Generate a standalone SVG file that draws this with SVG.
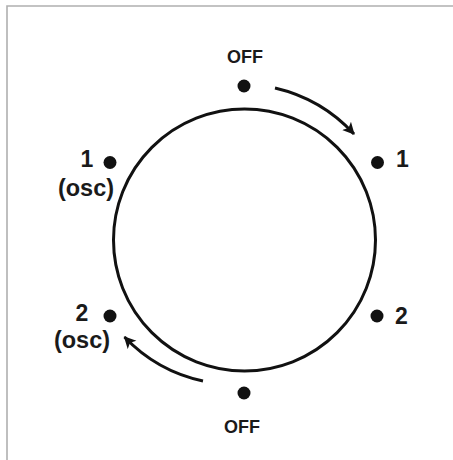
<svg xmlns="http://www.w3.org/2000/svg" width="453" height="460" viewBox="0 0 453 460">
<style>
.lbl{font-family:"Liberation Sans",Arial,sans-serif;font-weight:bold;fill:#1a1a1a}
.big{font-size:23px}
.osc{font-size:23.5px}
.sm{font-size:18px}
.dot{fill:#111}
.arc{fill:none;stroke:#111;stroke-width:3}
</style>
<defs>
<marker id="ah" markerUnits="userSpaceOnUse" markerWidth="14" markerHeight="14" refX="11" refY="6" orient="auto" viewBox="0 0 14 12">
<path d="M0,0 L12,6 L0,12 L3,6 z" fill="#111"/>
</marker>
</defs>
<rect x="0" y="0" width="453" height="460" fill="#fff"/>
<path d="M7,460 V6 H453" fill="none" stroke="#b0b0b0" stroke-width="1.6"/>
<g id="dial"><circle cx="244.5" cy="240" r="131" class="arc"/></g>
<g id="off-top"><circle cx="244" cy="86" r="6.5" class="dot"/><text x="245" y="62.5" text-anchor="middle" class="lbl sm">OFF</text></g>
<g id="one-right"><circle cx="377.5" cy="162.5" r="6.5" class="dot"/><text x="396" y="167" class="lbl big">1</text></g>
<g id="two-right"><circle cx="377" cy="316" r="6.5" class="dot"/><text x="395" y="323.5" class="lbl big">2</text></g>
<g id="off-bottom"><circle cx="244" cy="393" r="6.5" class="dot"/><text x="242" y="432.5" text-anchor="middle" class="lbl sm">OFF</text></g>
<g id="one-osc"><circle cx="110" cy="162.5" r="6.5" class="dot"/><text x="87" y="167" text-anchor="middle" class="lbl big">1</text><text x="86" y="195.5" text-anchor="middle" class="lbl osc">(osc)</text></g>
<g id="two-osc"><circle cx="110" cy="316" r="6.5" class="dot"/><text x="82" y="320.5" text-anchor="middle" class="lbl big">2</text><text x="82" y="347.5" text-anchor="middle" class="lbl osc">(osc)</text></g>
<g id="connectors">
<path d="M275,88 A155 155 0 0 1 354,134" class="arc" marker-end="url(#ah)"/>
<path d="M203,381 A152 152 0 0 1 124.5,337" class="arc" marker-end="url(#ah)"/>
</g>
</svg>
